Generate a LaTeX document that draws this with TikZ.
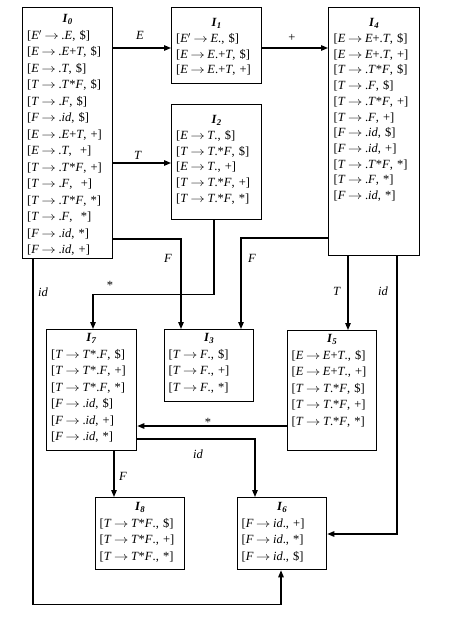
\documentclass[tikz,border=0pt]{standalone}
\usepackage{fontspec}
\usepackage{graphicx}
\setmainfont{Liberation Serif}
\usetikzlibrary{arrows.meta}
\newcommand\xE{\textit{E}}
\newcommand\xT{\textit{T}}
\newcommand\xF{\textit{F}}
\newcommand\xid{\textit{id}}
\newcommand\xra{\hspace{2.6bp}\scalebox{1.2}[1]{$\rightarrow$}\hspace{2.6bp}}
\newcommand\xtitle[1]{\makebox[\linewidth][c]{\textbf{\textit{I}\textsubscript{\textit{#1}}}}}
\tikzset{
  statebox/.style={draw, line width=1.3bp, inner sep=0pt, anchor=north west},
  items/.style={inner sep=0pt, align=left, anchor=north},
  conn/.style={line width=1.2bp, -{Triangle[length=7bp,width=5.5bp]}},
  lbl/.style={font=\fontsize{12.5bp}{14bp}\selectfont, inner sep=1bp},
}
\begin{document}
\begin{tikzpicture}[x=1bp,y=-1bp]
\useasboundingbox (0,0) rectangle (452,620);
% ---------- boxes ----------
\node[statebox, minimum width=90bp, minimum height=251bp] (I0) at (22,7) {};
\node[items, text width=81bp, font=\fontsize{12.5bp}{16.5bp}\selectfont] (I0t) at ([yshift=-7.5bp]I0.north) {%
\xtitle{0}\\
{[}\xE$'$\xra.\xE, \$]\\
{[}\xE\xra.\xE+\xT, \$]\\
{[}\xE\xra.\xT, \$]\\
{[}\xT\xra.\xT*\xF, \$]\\
{[}\xT\xra.\xF, \$]\\
{[}\xF\xra.\xid, \$]\\
{[}\xE\xra.\xE+\xT, +]\\
{[}\xE\xra.\xT, ~+]\\
{[}\xT\xra.\xT*\xF, +]\\
{[}\xT\xra.\xF, ~+]\\
{[}\xT\xra.\xT*\xF, *]\\
{[}\xT\xra.\xF, ~*]\\
{[}\xF\xra.\xid, *]\\
{[}\xF\xra.\xid, +]};

\node[statebox, minimum width=90bp, minimum height=76bp] (I1) at (171,7) {};
\node[items, text width=81bp, font=\fontsize{12.5bp}{15.7bp}\selectfont] (I1t) at ([yshift=-11.5bp]I1.north) {%
\xtitle{1}\\
{[}\xE$'$\xra\xE., \$]\\
{[}\xE\xra\xE.+\xT, \$]\\
{[}\xE\xra\xE.+\xT, +]};

\node[statebox, minimum width=90bp, minimum height=115bp] (I2) at (171,104) {};
\node[items, text width=81bp, font=\fontsize{12.5bp}{15.7bp}\selectfont] (I2t) at ([yshift=-11.5bp]I2.north) {%
\xtitle{2}\\
{[}\xE\xra\xT., \$]\\
{[}\xT\xra\xT.*\xF, \$]\\
{[}\xE\xra\xT., +]\\
{[}\xT\xra\xT.*\xF, +]\\
{[}\xT\xra\xT.*\xF, *]};

\node[statebox, minimum width=91bp, minimum height=248bp] (I4) at (328,7) {};
\node[items, text width=81bp, font=\fontsize{12.5bp}{15.7bp}\selectfont] (I4t) at ([yshift=-11.5bp]I4.north) {%
\xtitle{4}\\
{[}\xE\xra\xE+.\xT, \$]\\
{[}\xE\xra\xE+.\xT, +]\\
{[}\xT\xra.\xT*\xF, \$]\\
{[}\xT\xra.\xF, \$]\\
{[}\xT\xra.\xT*\xF, +]\\
{[}\xT\xra.\xF, +]\\
{[}\xF\xra.\xid, \$]\\
{[}\xF\xra.\xid, +]\\
{[}\xT\xra.\xT*\xF, *]\\
{[}\xT\xra.\xF, *]\\
{[}\xF\xra.\xid, *]};

\node[statebox, minimum width=89bp, minimum height=72bp] (I3) at (164,329) {};
\node[items, text width=81bp, font=\fontsize{12.5bp}{16.5bp}\selectfont] (I3t) at ([yshift=-4.5bp]I3.north) {%
\xtitle{3}\\
{[}\xT\xra\xF., \$]\\
{[}\xT\xra\xF., +]\\
{[}\xT\xra\xF., *]};

\node[statebox, minimum width=90bp, minimum height=121bp] (I7) at (46,329) {};
\node[items, text width=81bp, font=\fontsize{12.5bp}{16.5bp}\selectfont] (I7t) at ([yshift=-4.5bp]I7.north) {%
\xtitle{7}\\
{[}\xT\xra\xT*.\xF, \$]\\
{[}\xT\xra\xT*.\xF, +]\\
{[}\xT\xra\xT*.\xF, *]\\
{[}\xF\xra.\xid, \$]\\
{[}\xF\xra.\xid, +]\\
{[}\xF\xra.\xid, *]};

\node[statebox, minimum width=89bp, minimum height=120bp] (I5) at (287,330) {};
\node[items, text width=81bp, font=\fontsize{12.5bp}{16.5bp}\selectfont] (I5t) at ([yshift=-4.5bp]I5.north) {%
\xtitle{5}\\
{[}\xE\xra\xE+\xT., \$]\\
{[}\xE\xra\xE+\xT., +]\\
{[}\xT\xra\xT.*\xF, \$]\\
{[}\xT\xra\xT.*\xF, +]\\
{[}\xT\xra\xT.*\xF, *]};

\node[statebox, minimum width=89bp, minimum height=72bp] (I8) at (95,497) {};
\node[items, text width=81bp, font=\fontsize{12.5bp}{16.5bp}\selectfont] (I8t) at ([yshift=-5.5bp]I8.north) {%
\xtitle{8}\\
{[}\xT\xra\xT*\xF., \$]\\
{[}\xT\xra\xT*\xF., +]\\
{[}\xT\xra\xT*\xF., *]};

\node[statebox, minimum width=89bp, minimum height=72bp] (I6) at (237,497) {};
\node[items, text width=81bp, font=\fontsize{12.5bp}{16.5bp}\selectfont] (I6t) at ([yshift=-5.5bp]I6.north) {%
\xtitle{6}\\
{[}\xF\xra\xid., +]\\
{[}\xF\xra\xid., *]\\
{[}\xF\xra\xid., \$]};

% ---------- connectors ----------
\draw[conn] (I0.east |- 0,48) -- (I1.west |- 0,48);
\draw[conn] (I1.east |- 0,48) -- (I4.west |- 0,48);
\draw[conn] (I0.east |- 0,163) -- (I2.west |- 0,163);
\draw[conn] (I0.east |- 0,239) -| (I3.north -| 181,0);
\draw[conn] (I4.west |- 0,238) -| (I3.north -| 241,0);
\draw[conn] (I2.south -| 214,0) -- ++(0,74) -| (I7.north -| 93,0);
\draw[conn] (I4.south -| 348,0) -- (I5.north -| 348,0);
\draw[conn] (I4.south -| 397,0) |- (I6.east |- 0,534);
\draw[conn] (I5.west |- 0,426) -- (I7.east |- 0,426);
\draw[conn] (I7.east |- 0,439) -| (I6.north -| 255,0);
\draw[conn] (I7.south -| 114,0) -- (I8.north -| 114,0);
\draw[conn] (I0.south -| 33,0) -- ++(0,345) -| (I6.south -| 281,0);

% ---------- labels ----------
\node[lbl] (lE)  at (140,35)  {\xE};
\node[lbl] (lP)  at (292,38)  {+};
\node[lbl] (lT)  at (138,155) {\xT};
\node[lbl] (lF1) at (168,258) {\xF};
\node[lbl] (lS1) at (110,285) {*};
\node[lbl] (lF2) at (252,258) {\xF};
\node[lbl] (lT2) at (337,291) {\xT};
\node[lbl] (lid1) at (383,291) {\xid};
\node[lbl] (lid2) at (43,292) {\xid};
\node[lbl] (lS2) at (208,422) {*};
\node[lbl] (lid3) at (198,454) {\xid};
\node[lbl] (lF3) at (123,476) {\xF};
\end{tikzpicture}
\end{document}
